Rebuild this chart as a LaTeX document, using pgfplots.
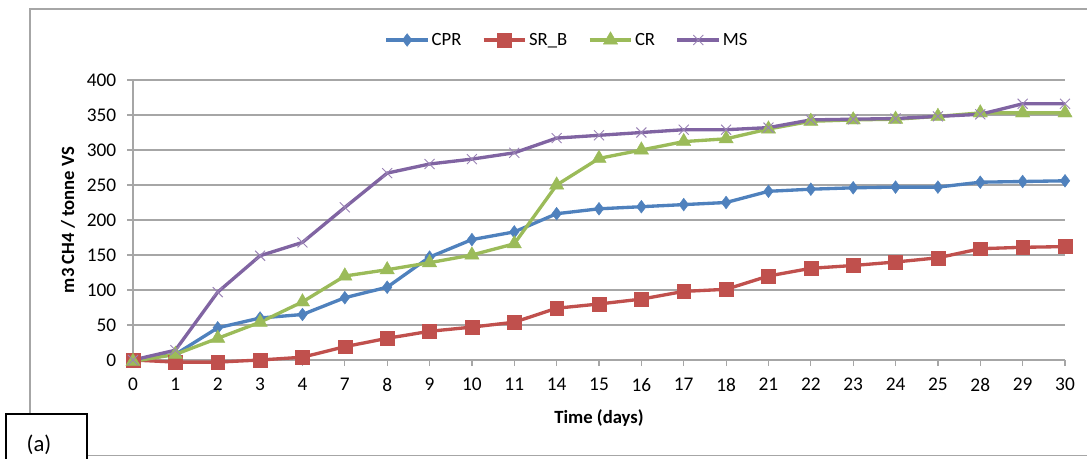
\documentclass[border=0pt]{standalone}
\usepackage{pgfplots}
\pgfplotsset{compat=1.18}
\usepackage{pgfplotstable}
\usepackage{fontspec}
\setmainfont{Carlito}
\definecolor{cpr}{HTML}{4F81BD}
\definecolor{srb}{HTML}{C0504D}
\definecolor{crc}{HTML}{9BBB59}
\definecolor{msc}{HTML}{8064A2}
\definecolor{gridc}{HTML}{A6A6A6}
\pgfplotstableread{
idx day CPR SR CR MS
0 0 0 0 -2 0
1 1 8 -3 8 14
2 2 46 -3 31 97
3 3 60 0 54 149
4 4 65 4 83 168
5 7 89 19 120 218
6 8 104 31 129 267
7 9 147 41 139 280
8 10 172 47 150 287
9 11 183 54 166 296
10 14 209 74 250 317
11 15 216 80 288 321
12 16 219 87 300 325
13 17 222 98 312 329
14 18 225 101 316 329
15 21 241 120 330 332
16 22 244 131 341 343
17 23 246 135 343 344
18 24 247 140 344 345
19 25 247 146 348 348
20 28 254 159 353 351
21 29 255 161 353 366
22 30 256 162 353 366
}\datatable
\begin{document}
\begin{tikzpicture}
\path[use as bounding box] (0,0) rectangle (815.25pt,343.5pt);
% outer chart frame
\draw[gridc, line width=1.2pt] (22.5pt,-5pt) -- (22.5pt,336.75pt) -- (830pt,336.75pt);
\draw[gridc, line width=1.2pt] (22.5pt,1.9pt) -- (830pt,1.9pt);
\begin{axis}[
  at={(99.75pt,73.5pt)}, anchor=south west,
  scale only axis, width=699pt, height=210pt,
  xmin=0, xmax=22, ymin=0, ymax=400,
  xtick={0,...,22},
  xticklabels={0,1,2,3,4,7,8,9,10,11,14,15,16,17,18,21,22,23,24,25,28,29,30},
  ytick={0,50,...,400},
  axis x line*=bottom, axis y line*=left,
  axis line style={draw=gridc, line width=0.9pt, -},
  tick style={draw=gridc, line width=0.9pt},
  tick align=outside,
  major tick length=4.5pt,
  ymajorgrids, grid style={draw=gridc, line width=0.8pt},
  /pgf/number format/assume math mode=true,
  ticklabel style={font=\fontsize{14.5}{16}\selectfont, text=black},
  xticklabel style={yshift=-5.5pt},
  yticklabel style={xshift=-4.5pt},
  xlabel={\textbf{Time (days)}},
  ylabel={\textbf{m3 CH4 / tonne VS}},
  label style={font=\fontsize{14}{16}\selectfont},
  xlabel style={at={(axis description cs:0.5,0)}, anchor=center, yshift=-43.5pt},
  ylabel style={at={(axis description cs:0,0.5)}, anchor=center, yshift=48.75pt},
  clip=false,
  legend columns=4,
  legend style={at={(axis description cs:0.5,1)}, anchor=center, xshift=-24pt, yshift=30pt,
    draw=none, fill=none, font=\fontsize{14}{16}\selectfont,
    /tikz/every even column/.append style={column sep=14pt},
    nodes={inner sep=1.5pt}},
  legend image code/.code={\draw[mark repeat=2,mark phase=2] plot coordinates {(0cm,0cm) (0.55cm,0cm) (1.1cm,0cm)};},
  every axis plot/.append style={line width=2.5pt},
]
\addplot[cpr, mark=diamond*, mark size=4.8pt, mark options={line width=0.3pt}] table[x=idx,y=CPR]{\datatable};
\addlegendentry{CPR}
\addplot[srb, mark=square*, mark size=5.2pt, mark options={line width=0.3pt}] table[x=idx,y=SR]{\datatable};
\addlegendentry{SR\_B}
\addplot[crc, mark=triangle*, mark size=6.2pt, mark options={line width=0.3pt}] table[x=idx,y=CR]{\datatable};
\addlegendentry{CR}
\addplot[msc, mark=x, mark size=5.3pt, mark options={line width=0.7pt, msc!80!white}] table[x=idx,y=MS]{\datatable};
\addlegendentry{MS}
\end{axis}
% (a) box
\draw[black, line width=1.5pt, fill=white] (4.5pt,-5pt) rectangle (65.25pt,33pt);
\node[font=\fontsize{17}{19}\selectfont] at (29.25pt,10pt) {(a)};
\end{tikzpicture}
\end{document}
